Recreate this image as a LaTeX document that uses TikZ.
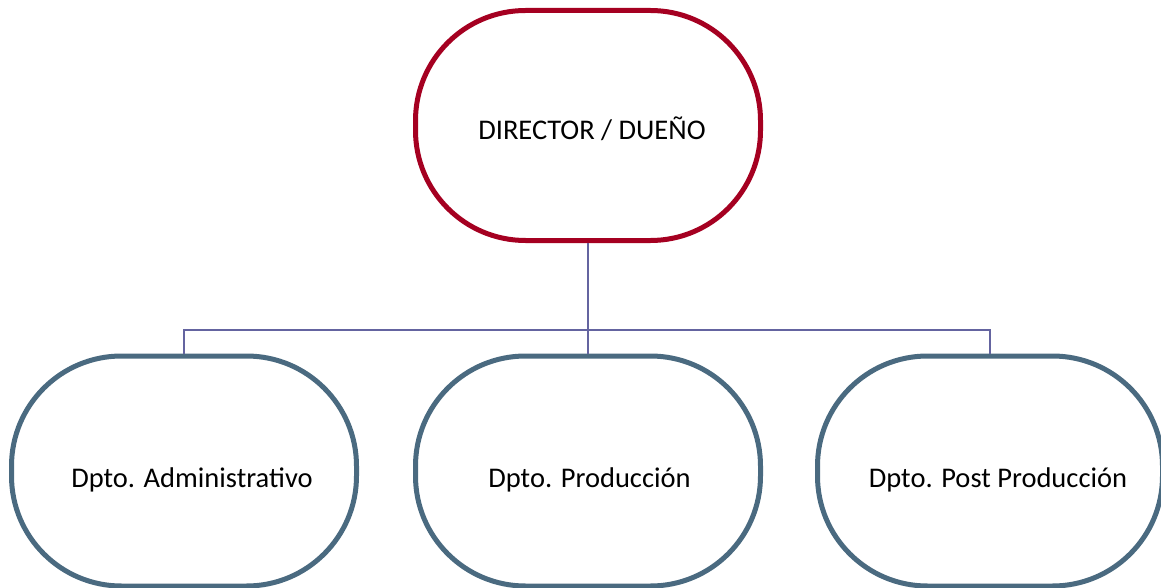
\documentclass[tikz,border=0pt]{standalone}
\usepackage{fontspec}
\setmainfont{Carlito}
\definecolor{topred}{HTML}{A50021}
\definecolor{deptblue}{HTML}{4A6A80}
\definecolor{linkpurple}{HTML}{6464A0}
\begin{document}
\begin{tikzpicture}[x=1pt,y=-1pt,
  boxbase/.style={rectangle, rounded corners=110pt, line width=5pt, fill=white,
    minimum width=345pt, minimum height=230pt, inner sep=0pt,
    text height=32pt, text depth=0pt, font=\fontsize{28.5}{34}\selectfont},
  topbox/.style={boxbase, draw=topred, text height=29pt},
  deptbox/.style={boxbase, draw=deptblue},
  link/.style={draw=linkpurple, line width=1.3pt}]
\useasboundingbox (0,0) rectangle (1161,588);
\node[topbox] (dir) at (588,125.5) {\hspace*{8pt}DIRECTOR / DUEÑO};
\node[deptbox] (adm) at (184,471) {\hspace*{16pt}Dpto. Administrativo};
\node[deptbox] (prod) at (588,471) {\hspace*{3pt}Dpto. Producción};
\node[deptbox] (post) at (990,471) {\hspace*{16pt}Dpto. Post Producción};
\coordinate (bus) at (588,330);
\draw[link] (dir.south) -- (prod.north);
\draw[link] (adm.north) |- (bus);
\draw[link] (post.north) |- (bus);
\end{tikzpicture}
\end{document}
